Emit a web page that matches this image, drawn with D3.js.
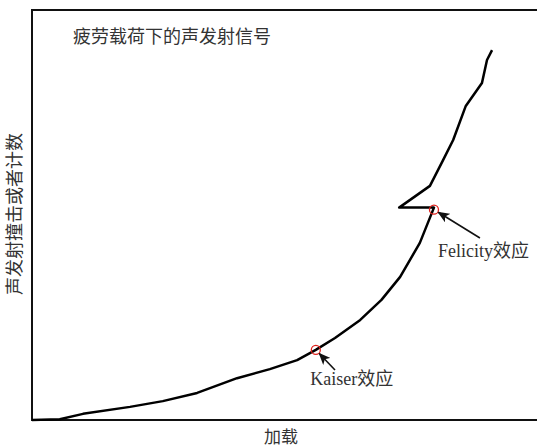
<!DOCTYPE html>
<html>
<head>
<meta charset="utf-8">
<script src="https://cdn.jsdelivr.net/npm/d3@7"></script>
<style>
body { margin:0; background:#fff; }
text { font-family: "Liberation Serif", "Noto Sans CJK SC", serif; fill:#333; }
</style>
</head>
<body>
<svg></svg>
<script>
// load (x) vs AE hits/counts (y), arbitrary units 0-100
var loadVals  = [0, 5.5, 10.1, 19.4, 25.9, 32.7, 40.6, 47.1, 52.5, 56.2, 60.0, 65.0, 69.2, 72.9, 76.8, 79.6, 72.7, 78.8, 81.4, 83.4, 85.9, 89.1, 90.1, 91.1]
var countVals = [0, 0.2, 1.5, 3.2, 4.6, 6.6, 10.2, 12.4, 14.6, 17.1, 20.0, 24.4, 29.3, 34.9, 43.2, 51.8, 51.8, 57.1, 63.4, 68.3, 76.6, 82.2, 87.8, 90.2]

// annotated points: name, point, arrow tail, label start
var effectNames = ["Kaiser效应", "Felicity效应"]
var effectPts   = [[56.2, 17.1], [79.6, 51.3]]
var arrowTails  = [[60.0, 12.2], [88.7, 44.4]]
var labelPts    = [[55.1, 8.5], [80.4, 39.8]]

var titleText = "疲劳载荷下的声发射信号"
var xLabel = "加载"
var yLabel = "声发射撞击或者计数"

var screen = {width:538, height:446}
var margins = {top:10, right:1, bottom:26, left:32}

var width = screen.width - margins.left - margins.right
var height = screen.height - margins.top - margins.bottom

var svg = d3.select("svg")
    .attr("width", screen.width)
    .attr("height", screen.height)

var xScale = d3.scaleLinear()
            .domain([0, 100])
            .range([margins.left, margins.left + width])

var yScale = d3.scaleLinear()
            .domain([0, 100])
            .range([margins.top + height, margins.top])

// arrow head
svg.append("defs").append("marker")
    .attr("id", "head")
    .attr("viewBox", "0 0 12 10")
    .attr("refX", 11)
    .attr("refY", 5)
    .attr("markerWidth", 12)
    .attr("markerHeight", 10)
    .attr("markerUnits", "userSpaceOnUse")
    .attr("orient", "auto")
    .append("path")
    .attr("d", "M0,0 L12,5 L0,10 L3,5 z")
    .attr("fill", "#111")

// frame: top, left, bottom (open on the right)
var x0 = xScale.range()[0], x1 = xScale.range()[1]
var yTop = yScale.range()[1], yBot = yScale.range()[0]
svg.append("path")
    .attr("d", "M" + x1 + "," + yTop + " L" + x0 + "," + yTop + " L" + x0 + "," + yBot + " L" + x1 + "," + yBot)
    .attr("fill", "none")
    .attr("stroke", "#111")
    .attr("stroke-width", 2)

var data = loadVals.map(function(d, i) { return {x:d, y:countVals[i]} })

var lineGenerator = d3.line()
        .x(function(d) { return xScale(d.x) })
        .y(function(d) { return yScale(d.y) })

svg.append("path")
    .datum(data)
    .attr("d", lineGenerator)
    .attr("fill", "none")
    .attr("stroke", "#000")
    .attr("stroke-width", 2.5)
    .attr("stroke-linejoin", "round")

// red markers
svg.selectAll(".mark")
    .data(effectPts)
    .enter()
    .append("circle")
    .attr("class", "mark")
    .attr("cx", function(d) { return xScale(d[0]) })
    .attr("cy", function(d) { return yScale(d[1]) })
    .attr("r", 4.5)
    .attr("fill", "none")
    .attr("stroke", "#e0201b")
    .attr("stroke-width", 1.3)

// arrows from label to point
svg.selectAll(".arrow")
    .data(arrowTails)
    .enter()
    .append("line")
    .attr("class", "arrow")
    .attr("x1", function(d) { return xScale(d[0]) })
    .attr("y1", function(d) { return yScale(d[1]) })
    .attr("x2", function(d, i) {
        var px = xScale(effectPts[i][0]), py = yScale(effectPts[i][1])
        var dx = xScale(d[0]) - px, dy = yScale(d[1]) - py
        var len = Math.sqrt(dx*dx + dy*dy)
        return px + dx / len * 5
    })
    .attr("y2", function(d, i) {
        var px = xScale(effectPts[i][0]), py = yScale(effectPts[i][1])
        var dx = xScale(d[0]) - px, dy = yScale(d[1]) - py
        var len = Math.sqrt(dx*dx + dy*dy)
        return py + dy / len * 5
    })
    .attr("stroke", "#111")
    .attr("stroke-width", 1.6)
    .attr("marker-end", "url(#head)")

svg.selectAll(".lbl")
    .data(labelPts)
    .enter()
    .append("text")
    .attr("class", "lbl")
    .attr("x", function(d) { return xScale(d[0]) })
    .attr("y", function(d) { return yScale(d[1]) })
    .style("font-size", "18px")
    .text(function(d, i) { return effectNames[i] })

// title and axis labels
svg.append("text")
    .attr("x", 73)
    .attr("y", 43)
    .style("font-size", "18px")
    .text(titleText)

svg.append("text")
    .attr("x", (margins.left + 530) / 2)
    .attr("y", 443)
    .style("text-anchor", "middle")
    .style("font-size", "17px")
    .text(xLabel)

svg.append("text")
    .attr("transform", "translate(21," + 214 + ") rotate(-90)")
    .style("text-anchor", "middle")
    .style("font-size", "18px")
    .text(yLabel)
</script>
</body>
</html>
